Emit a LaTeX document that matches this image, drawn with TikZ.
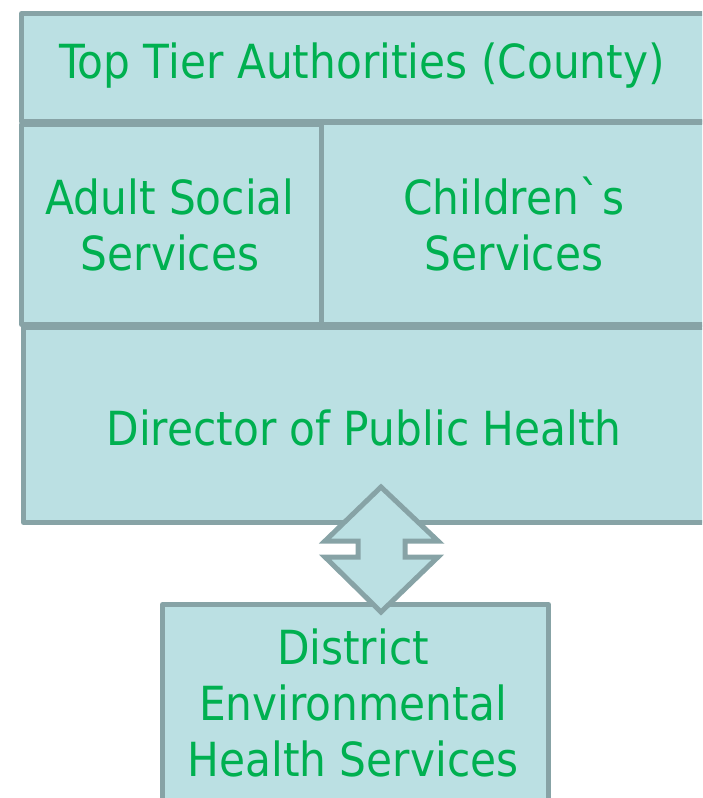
\documentclass[tikz,border=0pt]{standalone}
\usepackage{fontspec}
\setmainfont{DejaVu Sans}[FakeStretch=0.9]
\definecolor{boxfill}{HTML}{BBE0E3}
\definecolor{boxline}{HTML}{87A3A6}
\definecolor{txt}{HTML}{00B050}
\begin{document}
\begin{tikzpicture}[x=1pt,y=-1pt,
  box/.style={draw=boxline,fill=boxfill,line width=5pt,rectangle,anchor=north west,inner sep=0pt,line join=round},
  lbl/.style={text=txt,font=\fontsize{47}{56}\selectfont,align=center,inner sep=0pt}]
\path[use as bounding box] (0,0) rectangle (702,798);
\clip (0,0) rectangle (702,798);
\node[box,minimum width=691pt,minimum height=108pt] (topbox) at (19,11) {};
\node[box,minimum width=300pt,minimum height=200pt] (adultbox) at (19,122) {};
\node[box,minimum width=391pt,minimum height=202pt] (childbox) at (319,120) {};
\node[box,minimum width=689pt,minimum height=195pt] (dirbox) at (21,325) {};
\node[box,minimum width=386pt,minimum height=220pt] (distbox) at (160,602) {};
\node[lbl] (toptxt) at (362,66) {Top Tier Authorities (County)};
\node[lbl] (adulttxt) at (170,225) {Adult Social\\Services};
\node[lbl] (childtxt) at (514,224) {Children\textasciigrave s\\Services};
\node[lbl] (dirtxt) at (364,428) {Director of Public Health};
\node[lbl] (disttxt) at (353,703) {District\\Environmental\\Health Services};
\draw[draw=boxline,fill=boxfill,line width=5pt,line join=miter]
  (381,487) -- (438,541) -- (405,541) -- (405,557) -- (438,557) -- (381,612)
  -- (325,557) -- (358,557) -- (358,541) -- (325,541) -- cycle;
\end{tikzpicture}
\end{document}
